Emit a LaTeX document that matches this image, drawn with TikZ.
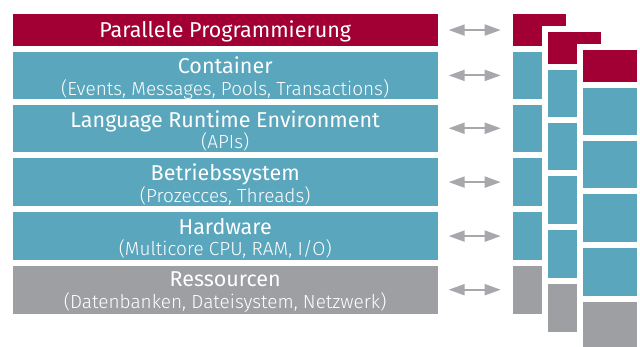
\documentclass[tikz,border=0pt]{standalone}
\usepackage{fontspec}
\setmainfont{Fira Sans}
\newfontfamily\lightfont{Fira Sans Light}
\usetikzlibrary{arrows.meta}
\definecolor{cred}{HTML}{A20035}
\definecolor{cteal}{HTML}{5AA6BD}
\definecolor{cgrey}{HTML}{9E9FA3}
\definecolor{carrow}{HTML}{A7A8AC}
\newcommand{\subline}[1]{{\lightfont\fontsize{19}{21}\selectfont #1}}
\begin{document}
\begin{tikzpicture}[x=1pt,y=-1pt,
  bar/.style={rectangle,inner sep=0pt,anchor=north west,minimum width=425.4pt},
  txt/.style={inner sep=0pt,text=white,align=center,font=\fontsize{21.5}{21.5}\selectfont},
  blk/.style={rectangle,inner sep=0pt,anchor=north west,minimum width=53.7pt},
  arr/.style={draw=carrow,line width=2pt,{Triangle[length=16pt,width=11pt]}-{Triangle[length=16pt,width=11pt]},
    shorten <=10.6pt,shorten >=11.6pt}]
\useasboundingbox (0,0) rectangle (640,346);
\fill[white] (0,0) rectangle (640,346);
% main bars
\node[bar,fill=cred,minimum height=31.7pt] (b0) at (12.3,14) {};
\node[bar,fill=cteal,minimum height=47pt] (b1) at (12.3,51.7) {};
\node[bar,fill=cteal,minimum height=47.5pt] (b2) at (12.3,104.3) {};
\node[bar,fill=cteal,minimum height=48pt] (b3) at (12.3,157.9) {};
\node[bar,fill=cteal,minimum height=48pt] (b4) at (12.3,211.9) {};
\node[bar,fill=cgrey,minimum height=47.6pt] (b5) at (12.3,265.7) {};
% texts
\node[txt] (t0) at ([yshift=-1pt]b0.center) {Parallele Programmierung};
\node[txt] (t1) at ([yshift=-2.5pt]b1.center) {Container\\\subline{(Events, Messages, Pools, Transactions)}};
\node[txt] (t2) at ([yshift=-2.5pt]b2.center) {Language Runtime Environment\\\subline{(APIs)}};
\node[txt] (t3) at ([yshift=-2.5pt]b3.center) {Betriebssystem\\\subline{(Prozecces, Threads)}};
\node[txt] (t4) at ([yshift=-2.5pt]b4.center) {Hardware\\\subline{(Multicore CPU, RAM, I/O)}};
\node[txt] (t5) at ([yshift=-2.5pt]b5.center) {Ressourcen\\\subline{(Datenbanken, Dateisystem, Netzwerk)}};
% columns
\foreach \k/\dx/\dy in {1/0/0,2/35.2/18.2,3/70.4/36}{
  \ifnum\k>1
    \fill[white] (512.3+\dx-6,14+\dy-6) rectangle (512.3+\dx+53.7+6,313.3+\dy+6);
  \fi
  \node[blk,fill=cred,minimum height=31.7pt] (c\k r0) at (512.3+\dx,14+\dy) {};
  \node[blk,fill=cteal,minimum height=47pt] (c\k r1) at (512.3+\dx,51.7+\dy) {};
  \node[blk,fill=cteal,minimum height=47.5pt] (c\k r2) at (512.3+\dx,104.3+\dy) {};
  \node[blk,fill=cteal,minimum height=48pt] (c\k r3) at (512.3+\dx,157.9+\dy) {};
  \node[blk,fill=cteal,minimum height=48pt] (c\k r4) at (512.3+\dx,211.9+\dy) {};
  \node[blk,fill=cgrey,minimum height=47.6pt] (c\k r5) at (512.3+\dx,265.7+\dy) {};
}
% arrows
\foreach \i in {0,...,5}{
  \draw[arr] (b\i.east) -- (c1r\i.west);
}
\end{tikzpicture}
\end{document}
